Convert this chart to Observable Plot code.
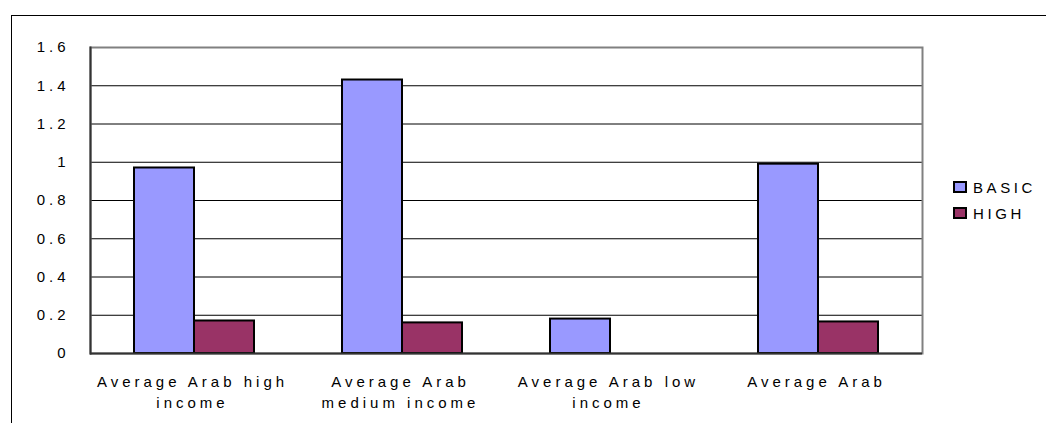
<!DOCTYPE html>
<html>
<head>
<meta charset="utf-8">
<script src="https://cdn.jsdelivr.net/npm/d3@7"></script>
<script src="https://cdn.jsdelivr.net/npm/@observablehq/plot@0.6"></script>
<style>
  body { margin: 0; background: #fff; font-family: "Liberation Sans", Arial, sans-serif; }
  #wrap { position: relative; width: 1046px; height: 423px; overflow: hidden; background: #fff; }
  #border { position: absolute; left: 11px; top: 15px; width: 1200px; height: 600px; border-top: 1.5px solid #000; border-left: 1.5px solid #000; box-sizing: border-box; }
  #chart { position: absolute; left: 0; top: 0; }
  #legend { position: absolute; left: 953px; top: 174px; font-size: 15px; letter-spacing: 3.6px; color: #000; }
  .row { display: flex; align-items: center; height: 26px; }
  .sw { width: 10px; height: 8px; border: 2px solid #000; margin-right: 6px; }
</style>
</head>
<body>
<div id="wrap">
  <div id="border"></div>
  <div id="chart"></div>
  <div id="legend"></div>
</div>
<script>
const categories = ["Average Arab high income", "Average Arab medium income", "Average Arab low income", "Average Arab"];
const categoryLabels = ["Average Arab high\nincome", "Average Arab\nmedium income", "Average Arab low\nincome", "Average Arab"];
const series = ["BASIC", "HIGH"];
const basicValues = [0.97, 1.43, 0.18, 0.99];
const highValues = [0.17, 0.16, null, 0.165];
const seriesColors = ["#9999FF", "#993366"];
const yTicks = [0, 0.2, 0.4, 0.6, 0.8, 1, 1.2, 1.4, 1.6];
const gridTicks = [0.2, 0.4, 0.6, 0.8, 1, 1.2, 1.4];

const data = [];
categories.forEach((c, i) => {
  if (basicValues[i] != null) data.push({category: c, series: "BASIC", value: basicValues[i]});
  if (highValues[i] != null) data.push({category: c, series: "HIGH", value: highValues[i]});
});

const fmt = d3.format("~g");

const plot = Plot.plot({
  width: 1046,
  height: 423,
  marginLeft: 89,
  marginRight: 124,
  marginTop: 47,
  marginBottom: 70,
  style: {fontFamily: "'Liberation Sans', Arial, sans-serif", fontSize: "15px", letterSpacing: "4px", color: "#000", background: "transparent", overflow: "visible"},
  fx: {domain: categories, padding: 0, label: null},
  x: {domain: series, paddingInner: 0, paddingOuter: 0.733, axis: null},
  y: {domain: [0, 1.6], label: null},
  color: {domain: series, range: seriesColors},
  marks: [
    Plot.gridY(gridTicks, {stroke: "#000", strokeOpacity: 1, strokeWidth: 1}),
    Plot.frame({facet: "super", stroke: "#808080", strokeWidth: 2}),
    Plot.barY(data, {fx: "category", x: "series", y: "value", fill: "series", stroke: "#000", strokeWidth: 2}),
    Plot.ruleY([0], {stroke: "#333", strokeWidth: 2}),
    Plot.frame({facet: "super", anchor: "left", stroke: "#333", strokeWidth: 2}),
    Plot.axisY(yTicks, {tickSize: 0, tickPadding: 21, tickFormat: fmt, fontSize: 15, fill: "#000", label: null}),
    Plot.axisFx({anchor: "bottom", tickSize: 0, tickPadding: 19, lineHeight: 1.4, fontSize: 15, fill: "#000", label: null, dx: -2,
      tickFormat: d => categoryLabels[categories.indexOf(d)]})
  ]
});
document.getElementById("chart").appendChild(plot);

const legend = document.getElementById("legend");
series.forEach((s, i) => {
  const row = document.createElement("div");
  row.className = "row";
  const sw = document.createElement("div");
  sw.className = "sw";
  sw.style.background = seriesColors[i];
  const t = document.createElement("span");
  t.textContent = s;
  row.appendChild(sw);
  row.appendChild(t);
  legend.appendChild(row);
});
</script>
</body>
</html>
